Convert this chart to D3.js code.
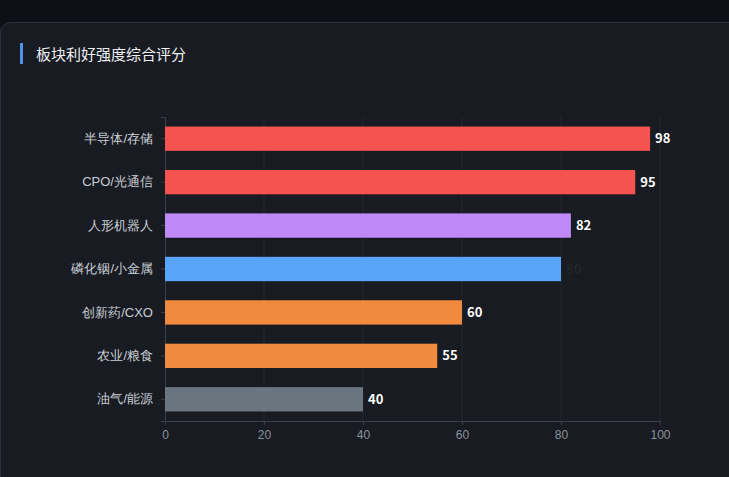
<!DOCTYPE html>
<html><head><meta charset="utf-8">
<script src="https://cdn.jsdelivr.net/npm/d3@7"></script>
<style>
body{margin:0;background:#0e1118;font-family:"Noto Sans CJK SC","Noto Sans",sans-serif;overflow:hidden}
</style></head><body>
<svg id="c" width="729" height="477"></svg>
<script>
var sectors = ['半导体/存储','CPO/光通信','人形机器人','磷化铟/小金属','创新药/CXO','农业/粮食','油气/能源']
var scores = [98,95,82,80,60,55,40]
var colors = ['#f5534f','#f5534f','#bf8af7','#58a6fb','#f08a3d','#f08a3d','#6b7580']
var labelColors = ['#fff','#fff','#fff','#22252b','#fff','#fff','#fff']
var ticks = [0,20,40,60,80,100]

var svg = d3.select('#c')
svg.append('rect').attr('x',0).attr('y',0).attr('width',729).attr('height',22).attr('fill','#0d1017')
svg.append('rect').attr('x',0.5).attr('y',22.5).attr('width',740).attr('height',470).attr('rx',10)
    .attr('fill','#181b21').attr('stroke','#2c3038')
svg.append('rect').attr('x',20).attr('y',43).attr('width',3).attr('height',21).attr('fill','#4e95e8')
svg.append('text').attr('x',36).attr('y',60).attr('fill','#eef0f4').attr('font-size',15).text('板块利好强度综合评分')

var x = d3.scaleLinear().domain([0,100]).range([165,660])
var y = d3.scaleBand().domain(sectors).range([117,421]).paddingInner(0.44).paddingOuter(0.22)

svg.append('g').selectAll('line').data(ticks.slice(1)).enter().append('line')
    .attr('x1',d=>x(d)).attr('x2',d=>x(d)).attr('y1',117).attr('y2',421)
    .attr('stroke','#252a31')

svg.append('g').attr('transform','translate(0,421)')
    .call(d3.axisBottom(x).tickValues(ticks).tickSize(4))
    .call(g=>{g.selectAll('line,path').attr('stroke','#3a4048');g.selectAll('text').attr('fill','#8a919b').attr('font-size',12).attr('dy','0.9em')})
svg.append('g').attr('transform','translate(165,0)')
    .call(d3.axisLeft(y).tickSize(4).tickPadding(8))
    .call(g=>{g.selectAll('line,path').attr('stroke','#3a4048');g.selectAll('text').attr('fill','#c9ced6').attr('font-size',13)})

svg.append('g').selectAll('rect').data(scores).enter().append('rect')
    .attr('x',x(0)).attr('y',(d,i)=>y(sectors[i])).attr('height',y.bandwidth())
    .attr('width',d=>x(d)-x(0)).attr('fill',(d,i)=>colors[i])
svg.append('g').selectAll('text').data(scores).enter().append('text')
    .attr('x',d=>x(d)+5).attr('y',(d,i)=>y(sectors[i])+y.bandwidth()/2).attr('dy','0.35em')
    .attr('fill',(d,i)=>labelColors[i]).attr('font-size',13).attr('font-weight','bold').text(d=>d)
</script></body></html>
